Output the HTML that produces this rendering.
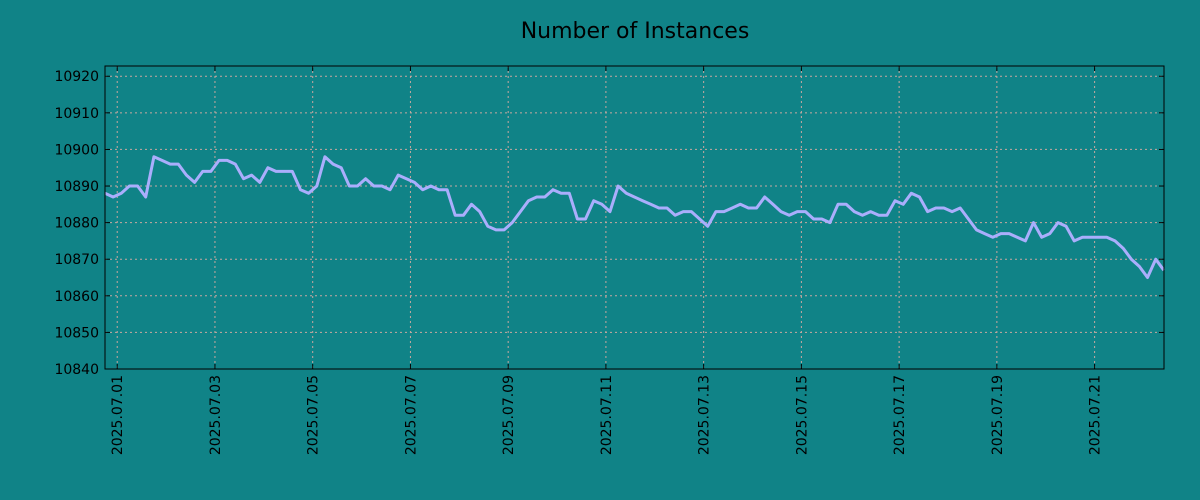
<!DOCTYPE html>
<html><head><meta charset="utf-8"><style>
html,body{margin:0;padding:0;background:#108387;}
svg{display:block;font-family:"DejaVu Sans","Liberation Sans",sans-serif;}
</style></head><body>
<svg width="1200" height="500" id="chart">
<rect x="0" y="0" width="1200" height="500" fill="#108387"/>
<text x="635" y="38" text-anchor="middle" font-size="22" fill="#000">Number of Instances</text>
<g id="grid"></g>
<g id="axes"></g>
<polyline id="line" fill="none" stroke="#aaaefc" stroke-width="3" stroke-linejoin="round"/>
<rect x="105" y="66" width="1059" height="303" fill="none" stroke="#000" stroke-width="1"/>
</svg>
<script>
const values=[10888,10887,10888,10890,10890,10887,10898,10897,10896,10896,10893,10891,10894,10894,10897,10897,10896,10892,10893,10891,10895,10894,10894,10894,10889,10888,10890,10898,10896,10895,10890,10890,10892,10890,10890,10889,10893,10892,10891,10889,10890,10889,10889,10882,10882,10885,10883,10879,10878,10878,10880,10883,10886,10887,10887,10889,10888,10888,10881,10881,10886,10885,10883,10890,10888,10887,10886,10885,10884,10884,10882,10883,10883,10881,10879,10883,10883,10884,10885,10884,10884,10887,10885,10883,10882,10883,10883,10881,10881,10880,10885,10885,10883,10882,10883,10882,10882,10886,10885,10888,10887,10883,10884,10884,10883,10884,10881,10878,10877,10876,10877,10877,10876,10875,10880,10876,10877,10880,10879,10875,10876,10876,10876,10876,10875,10873,10870,10868,10865,10870,10867];
const yTicks=[10840,10850,10860,10870,10880,10890,10900,10910,10920];
const xTickLabels=["2025.07.01","2025.07.03","2025.07.05","2025.07.07","2025.07.09","2025.07.11","2025.07.13","2025.07.15","2025.07.17","2025.07.19","2025.07.21"];
const xTickDays=[0,2,4,6,8,10,12,14,16,18,20];
const startDay=-0.25, stepDays=4/24;
const L=105,R=1164,T=66,B=369;
const dMin=-0.25,dMax=21.42,vMin=10840,vMax=10922.8;
const xs=d=>L+(d-dMin)/(dMax-dMin)*(R-L);
const ys=v=>B-(v-vMin)/(vMax-vMin)*(B-T);
const NS="http://www.w3.org/2000/svg";
const grid=document.getElementById('grid'),axes=document.getElementById('axes');
function mk(tag,attrs,parent){const e=document.createElementNS(NS,tag);for(const k in attrs)e.setAttribute(k,attrs[k]);parent.appendChild(e);return e;}
yTicks.forEach(v=>{const y=ys(v);
 const g=mk('line',{x1:L,x2:R,y1:y,y2:y,stroke:'#c8a8a0','stroke-dasharray':'2,3','stroke-width':1},grid);
 
 
 const t1=mk('line',{x1:L,x2:L+5,y1:y,y2:y,stroke:'#000'},axes);
 
 
 const t2=mk('line',{x1:R-5,x2:R,y1:y,y2:y,stroke:'#000'},axes);
 
 
 const tx=mk('text',{x:L-6,y:y+5,'text-anchor':'end','font-size':14,fill:'#000'},axes);
 tx.textContent=v;
 
 
});
xTickDays.forEach((d,i)=>{const x=xs(d);
 const g=mk('line',{x1:x,x2:x,y1:T,y2:B,stroke:'#c8a8a0','stroke-dasharray':'2,3','stroke-width':1},grid);
 
 
 const t1=mk('line',{x1:x,x2:x,y1:B-5,y2:B,stroke:'#000'},axes);
 
 
 const t2=mk('line',{x1:x,x2:x,y1:T,y2:T+5,stroke:'#000'},axes);
 
 
 const tx=mk('text',{x:0,y:0,'text-anchor':'end','font-size':14,fill:'#000',transform:`translate(${x+5},${B+6}) rotate(-90)`},axes);
 tx.textContent=xTickLabels[i];
 
 
});
document.getElementById('line').setAttribute('points',values.map((v,i)=>xs(startDay+i*stepDays).toFixed(1)+','+ys(v).toFixed(1)).join(' '));
</script>
</body></html>
